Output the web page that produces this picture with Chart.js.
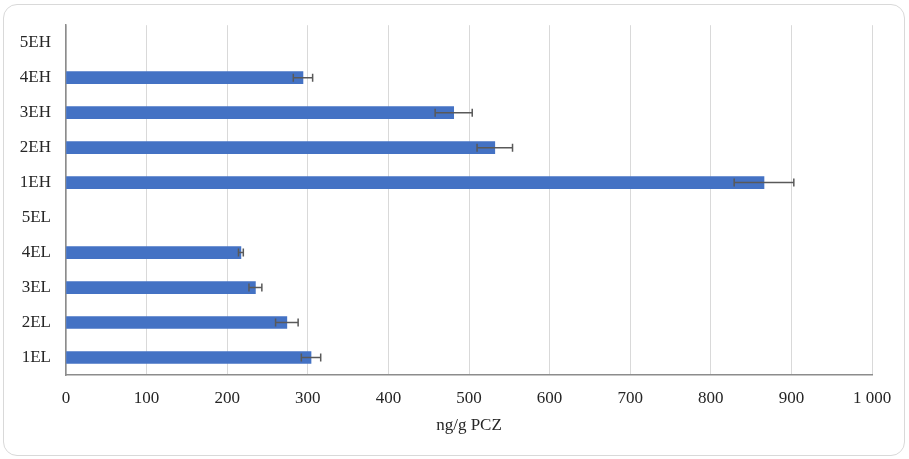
<!DOCTYPE html>
<html>
<head>
<meta charset="utf-8">
<script src="https://cdn.jsdelivr.net/npm/chart.js@4.4.0/dist/chart.umd.min.js"></script>
<style>
  body { margin: 0; background: #fff; }
  .frame {
    position: absolute; left: 3px; top: 4px; width: 900px; height: 450px;
    border: 1px solid #d9d9d9; border-radius: 14px;
  }
  .wrap { position: absolute; left: 0; top: 0; width: 909px; height: 459px; }
</style>
</head>
<body>
<div class="frame"></div>
<div class="wrap"><canvas id="pczChart" width="909" height="459"></canvas></div>
<script>
// categories, top to bottom as shown
const samples = ['5EH', '4EH', '3EH', '2EH', '1EH', '5EL', '4EL', '3EL', '2EL', '1EL'];
const means = [null, 294, 481, 532, 866, null, 217, 235, 274, 304];
const errors = [null, 12, 23, 22, 37, null, 3, 8, 14, 12];
const xTicks = [0, 100, 200, 300, 400, 500, 600, 700, 800, 900, 1000];

// error bars drawn on top of the bars
const errorBarPlugin = {
    id: 'errorBars',
    afterDatasetsDraw(chart) {
        const ctx = chart.ctx;
        const xs = chart.scales.x;
        const meta = chart.getDatasetMeta(0);
        ctx.save();
        ctx.strokeStyle = '#595959';
        ctx.lineWidth = 1.5;
        meta.data.forEach((bar, i) => {
            if (means[i] == null) return;
            const lo = xs.getPixelForValue(means[i] - errors[i]);
            const hi = xs.getPixelForValue(means[i] + errors[i]);
            const y = bar.y;
            ctx.beginPath();
            ctx.moveTo(lo, y); ctx.lineTo(hi, y);
            ctx.moveTo(lo, y - 4); ctx.lineTo(lo, y + 4);
            ctx.moveTo(hi, y - 4); ctx.lineTo(hi, y + 4);
            ctx.stroke();
        });
        ctx.restore();
    }
};

const fmt = (v) => String(v).replace(/\B(?=(\d{3})+(?!\d))/g, ' ');

new Chart(document.getElementById('pczChart'), {
    type: 'bar',
    data: {
        labels: samples,
        datasets: [{
            data: means,
            backgroundColor: '#4472c4',
            borderWidth: 0,
            barThickness: 12
        }]
    },
    plugins: [errorBarPlugin],
    options: {
        indexAxis: 'y',
        responsive: false,
        animation: false,
        layout: { padding: { left: 0, right: 37, top: 25, bottom: 19 } },
        plugins: { legend: { display: false }, tooltip: { enabled: false } },
        scales: {
            x: {
                min: 0, max: 1000,
                afterBuildTicks: (scale) => { scale.ticks = xTicks.map(v => ({ value: v })); },
                afterFit: (scale) => { scale.height = 65; },
                grid: { color: '#d9d9d9', lineWidth: 1, drawTicks: false },
                border: { color: '#8c8c8c', width: 1.5 },
                ticks: {
                    padding: 13, color: '#262626',
                    font: { family: 'Liberation Serif', size: 17 },
                    callback: (v) => fmt(v)
                },
                title: {
                    display: true, text: 'ng/g PCZ', color: '#262626',
                    font: { family: 'Liberation Serif', size: 17 },
                    padding: { top: 8 }
                }
            },
            y: {
                afterFit: (scale) => { scale.width = 66; },
                grid: { display: false, drawTicks: false },
                border: { color: '#8c8c8c', width: 1.5 },
                ticks: {
                    padding: 15, color: '#262626',
                    font: { family: 'Liberation Serif', size: 17 }
                }
            }
        }
    }
});
</script>
</body>
</html>
